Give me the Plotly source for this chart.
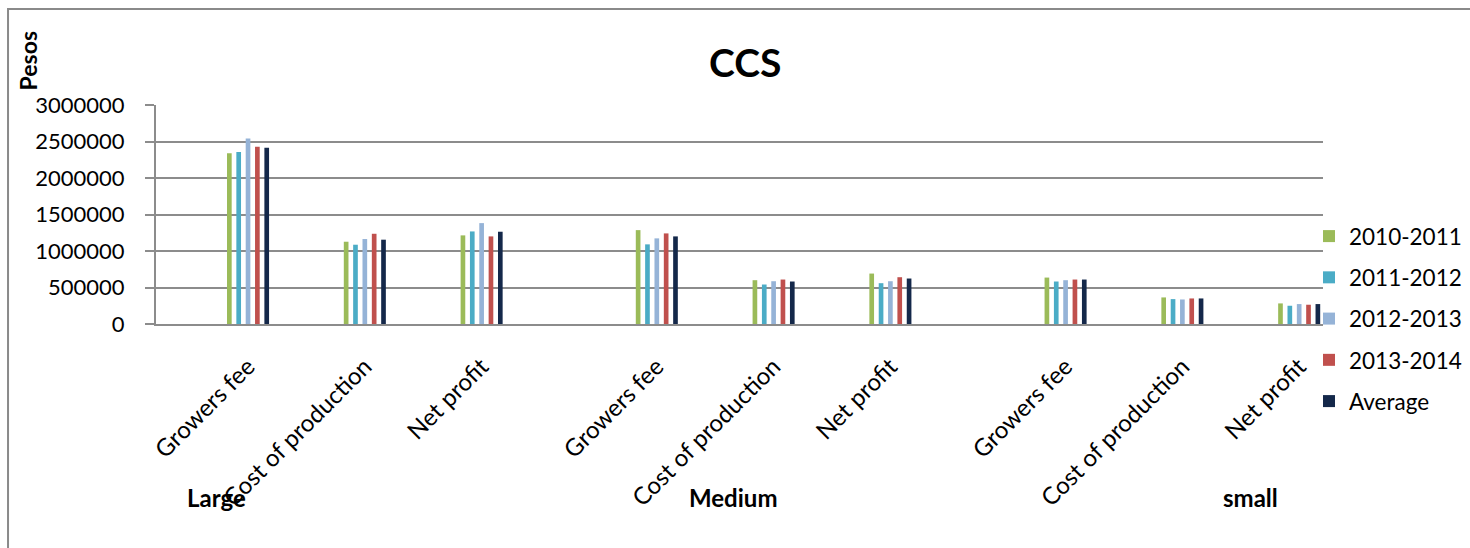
import plotly.graph_objects as go

# Farm-size groups and the measures reported for each
groups = ["Large", "Medium", "small"]
items = ["Growers fee", "Cost of production", "Net profit"]

# Pesos per crop year, ordered Large (fee, cost, profit), Medium (...), small (...)
series_names = ["2010-2011", "2011-2012", "2012-2013", "2013-2014", "Average"]
v_2010_2011 = [2340000, 1127000, 1214000, 1286000, 600000, 691000, 636000, 364000, 282000]
v_2011_2012 = [2355000, 1086000, 1268000, 1091000, 541000, 559000, 582000, 341000, 250000]
v_2012_2013 = [2541000, 1164000, 1382000, 1173000, 586000, 586000, 600000, 336000, 273000]
v_2013_2014 = [2427000, 1236000, 1200000, 1241000, 609000, 641000, 609000, 350000, 264000]
v_average = [2414000, 1155000, 1264000, 1200000, 582000, 623000, 609000, 350000, 273000]

y_ticks = [0, 500000, 1000000, 1500000, 2000000, 2500000, 3000000]

series_values = [v_2010_2011, v_2011_2012, v_2012_2013, v_2013_2014, v_average]
colors = ["#9BBB59", "#4BACC6", "#95B3D7", "#C0504D", "#14284A"]

# category positions: three items per group, half a slot between groups
group_step = len(items) + 0.5
positions = [g * group_step + i for g in range(len(groups)) for i in range(len(items))]
tick_text = [it for _ in groups for it in items]

FONT = "Lato, 'Open Sans', sans-serif"
GRID = "#8C8C8C"

fig = go.Figure()
for name, vals, col in zip(series_names, series_values, colors):
    fig.add_trace(go.Bar(
        x=positions, y=vals, name=name, legendgroup=name,
        marker=dict(color=col, line=dict(width=0)),
    ))

# group captions under the item labels
group_x = [-0.27, 4.15, 8.58]
annotations = [
    dict(x=gx, y=-0.79, xref="x", yref="paper", text=f"<b>{g}</b>",
         showarrow=False, font=dict(size=24, color="black", family=FONT),
         xanchor="center", yanchor="middle")
    for g, gx in zip(groups, group_x)
]
annotations.append(dict(
    x=0.505, y=1.196, xref="paper", yref="paper", text="<b>CCS</b>",
    showarrow=False, font=dict(size=39, color="black", family=FONT),
    xanchor="center", yanchor="middle"))
annotations.append(dict(
    x=-0.1095, y=1.20, xref="paper", yref="paper", text="<b>Pesos</b>",
    textangle=-90, showarrow=False, font=dict(size=23, color="black", family=FONT),
    xanchor="center", yanchor="middle"))

fig.update_layout(
    width=1470, height=548,
    margin=dict(l=156, r=147, t=105, b=224, autoexpand=False),
    paper_bgcolor="white", plot_bgcolor="white",
    font=dict(family=FONT, color="black", size=22),
    barmode="group", bargap=0.6, bargroupgap=0.5,
    showlegend=True,
    legend=dict(x=0.988, xanchor="left", y=0.023, yanchor="middle",
                font=dict(size=22.5, family=FONT, color="black"),
                tracegroupgap=9, bgcolor="rgba(0,0,0,0)"),
    annotations=annotations,
    shapes=[dict(type="rect", xref="paper", yref="paper",
                 x0=-0.1268, x1=1.14, y0=-1.08, y1=1.438,
                 line=dict(color="#8A8A8A", width=2), fillcolor="rgba(0,0,0,0)",
                 layer="below")],
)

fig.update_xaxes(
    range=[-0.788, 9.204], tickmode="array", tickvals=positions, ticktext=tick_text,
    tickangle=-45, tickfont=dict(size=24, family=FONT, color="black"),
    showline=True, linecolor=GRID, linewidth=2, showgrid=False, zeroline=False,
    ticks="", ticklabelstandoff=17, automargin=False,
)
fig.update_yaxes(
    range=[0, 3000000], tickmode="array", tickvals=y_ticks, tickformat="d",
    tickfont=dict(size=22, family=FONT, color="black"),
    showgrid=True, gridcolor=GRID, gridwidth=2,
    showline=True, linecolor=GRID, linewidth=2, zeroline=False,
    ticks="outside", ticklen=9, tickcolor=GRID, tickwidth=2, ticklabelstandoff=16,
    automargin=False,
)

fig.write_html("out.html")
